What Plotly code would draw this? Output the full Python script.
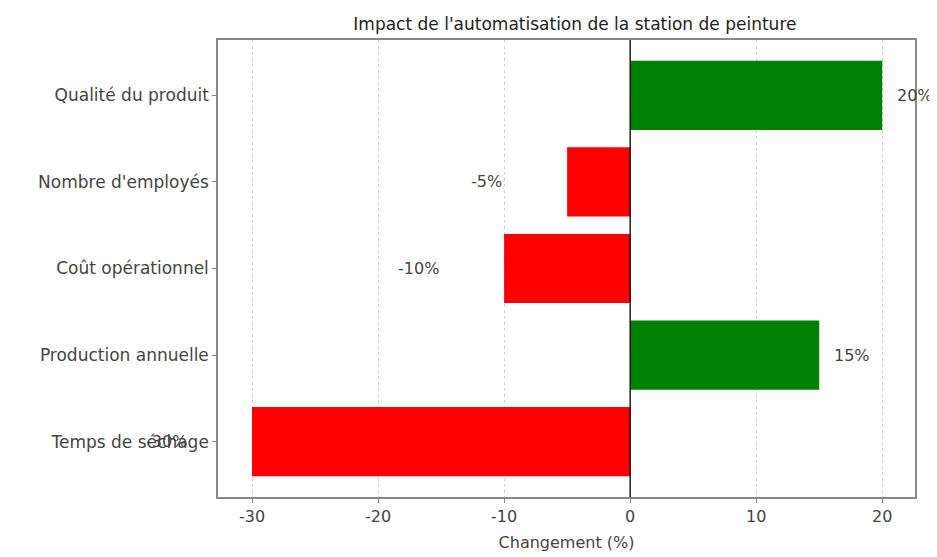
import plotly.graph_objects as go

categories = ["Temps de séchage", "Production annuelle", "Coût opérationnel", "Nombre d'employés", "Qualité du produit"]
values = [-30, 15, -10, -5, 20]
tick_vals = [-30, -20, -10, 0, 10, 20]
tick_text = ["-30", "-20", "-10", "0", "10", "20"]

colors = ["green" if v > 0 else "red" for v in values]
FONT = "DejaVu Sans"
PX_PER_UNIT = 12.6

fig = go.Figure(go.Bar(
    x=values, y=categories, orientation="h",
    marker=dict(color=colors, line=dict(width=0)),
    width=0.8,
))

for c, v in zip(categories, values):
    if v > 0:
        fig.add_annotation(x=v, y=c, xshift=1 * PX_PER_UNIT, text=f"{v}%", showarrow=False,
                           xanchor="left", yanchor="middle",
                           font=dict(family=FONT, size=16, color="#444"))
    else:
        fig.add_annotation(x=v, y=c, xshift=-5 * PX_PER_UNIT, text=f"{v}%", showarrow=False,
                           xanchor="right", yanchor="middle",
                           font=dict(family=FONT, size=16, color="#444"))

fig.add_vline(x=0, line=dict(color="black", width=1.3))

fig.update_layout(
    width=937, height=557,
    margin=dict(l=210, r=30, t=32, b=68),
    paper_bgcolor="white", plot_bgcolor="white",
    showlegend=False,
    title=dict(text="Impact de l'automatisation de la station de peinture",
               x=0.605, xanchor="center", y=0.972, yanchor="middle",
               font=dict(family=FONT, size=17, color="#222")),
    font=dict(family=FONT, color="#333"),
    bargap=0.2,
)
fig.update_xaxes(
    range=[-32.7, 22.6], tickvals=tick_vals, ticktext=tick_text,
    showgrid=True, gridcolor="#d0d0d0", griddash="dot", gridwidth=1,
    zeroline=False, showline=True, linecolor="#888", linewidth=1.5, mirror=True,
    ticks="outside", ticklen=4, tickcolor="#888",
    tickfont=dict(family=FONT, size=16, color="#444"),
    title=dict(text="Changement (%)", font=dict(family=FONT, size=16, color="#444"), standoff=12),
)
fig.update_yaxes(
    range=[-0.64, 4.64], showgrid=False, zeroline=False,
    showline=True, linecolor="#888", linewidth=1.5, mirror=True,
    ticks="outside", ticklen=4, tickcolor="#888",
    tickfont=dict(family=FONT, size=17, color="#444"),
)

fig.write_html("out.html")
